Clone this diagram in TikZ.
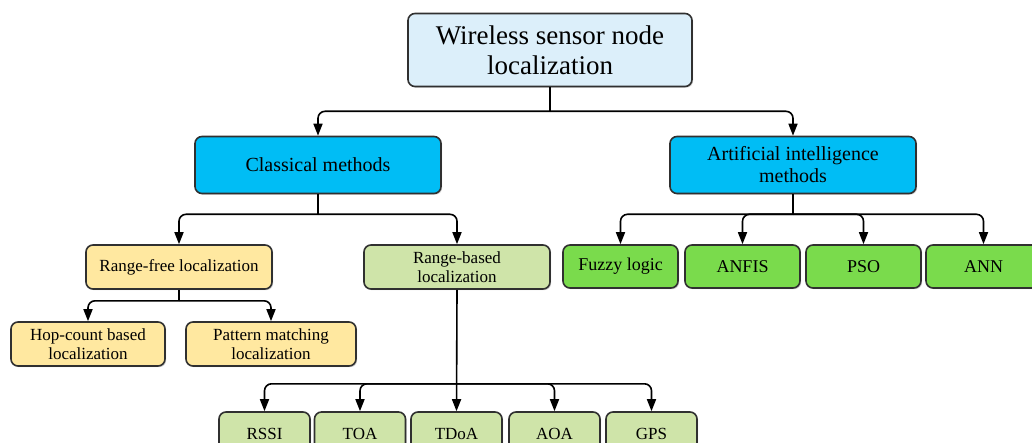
\documentclass[tikz,border=0pt]{standalone}
\usepackage{fontspec}
\setmainfont{Liberation Serif}
\usetikzlibrary{arrows.meta,shadows,calc}
\definecolor{rootfill}{HTML}{DCEFFA}
\definecolor{bluefill}{HTML}{00BDF5}
\definecolor{greenfill}{HTML}{7ADB4C}
\definecolor{yellowfill}{HTML}{FFE8A0}
\definecolor{lgreenfill}{HTML}{CFE4A9}
\definecolor{edge}{HTML}{303030}
\tikzset{
  box/.style={draw=edge, line width=1.6pt, rounded corners=7pt, align=center, inner sep=1pt,
    drop shadow={shadow xshift=1.2pt, shadow yshift=-1.2pt, opacity=0.35}},
  rootbox/.style={box, fill=rootfill, minimum width=284pt, minimum height=73pt, font=\fontsize{27}{30}\selectfont},
  bluebox/.style={box, fill=bluefill, minimum width=246pt, minimum height=57pt, font=\fontsize{20}{22}\selectfont},
  greenbox/.style={box, fill=greenfill, minimum width=115pt, minimum height=43pt, font=\fontsize{18}{20}\selectfont},
  yellowbox/.style={box, fill=yellowfill, minimum height=44pt, font=\fontsize{17}{19}\selectfont},
  lgreenbox/.style={box, fill=lgreenfill, minimum height=44pt, font=\fontsize{17}{19}\selectfont},
  arr/.style={-{Triangle[width=9pt,length=12pt]}, line width=1.6pt, rounded corners=7pt, draw=black},
  stem/.style={line width=1.6pt, draw=black}
}
\begin{document}
\begin{tikzpicture}[x=1pt,y=-1pt]
\useasboundingbox (0,0) rectangle (1032,443);
\clip (0,0) rectangle (1032,443);
\node[rootbox] (root) at (550,50) {Wireless sensor node\\localization};
\node[bluebox] (cm) at (318,165) {Classical methods};
\node[bluebox] (ai) at (793,165) {Artificial intelligence\\methods};
\node[yellowbox, minimum width=186pt] (rf) at (179,267) {Range-free localization};
\node[lgreenbox, minimum width=186pt] (rb) at (457,267) {Range-based\\localization};
\node[yellowbox, minimum width=154pt] (hop) at (88,344) {Hop-count based\\localization};
\node[yellowbox, minimum width=170pt] (pat) at (271,344) {Pattern matching\\localization};
\node[greenbox] (fuzzy) at (620.5,266.5) {Fuzzy logic};
\node[greenbox] (anfis) at (742.5,266.5) {ANFIS};
\node[greenbox] (pso) at (863.5,266.5) {PSO};
\node[greenbox] (ann) at (983.5,266.5) {ANN};
\node[lgreenbox, minimum width=91pt] (rssi) at (264.5,434) {RSSI};
\node[lgreenbox, minimum width=91pt] (toa) at (360,434) {TOA};
\node[lgreenbox, minimum width=91pt] (tdoa) at (456.5,434) {TDoA};
\node[lgreenbox, minimum width=91pt] (aoa) at (554.5,434) {AOA};
\node[lgreenbox, minimum width=91pt] (gps) at (651.5,434) {GPS};
% junctions
\coordinate (j0) at ($(root.south)+(0,24)$);
\coordinate (j1) at ($(cm.south)+(0,20)$);
\coordinate (j2) at ($(rf.south)+(0,11)$);
\coordinate (j3) at ($(ai.south)+(0,20)$);
\coordinate (j4) at ($(rb.south)+(0,94)$);
% connectors
\draw[stem] (root.south) -- (j0);
\draw[arr] (j0) -| (cm.north);
\draw[arr] (j0) -| (ai.north);
\draw[stem] (cm.south) -- (j1);
\draw[arr] (j1) -| (rf.north);
\draw[arr] (j1) -| (rb.north);
\draw[stem] (rf.south) -- (j2);
\draw[arr] (j2) -| (hop.north);
\draw[arr] (j2) -| (pat.north);
\draw[stem] (ai.south) -- (j3);
\draw[arr] (j3) -| (fuzzy.north);
\draw[arr] (j3) -| (anfis.north);
\draw[arr] (j3) -| (pso.north);
\draw[arr] (j3) -| (ann.north);
\draw[arr] (rb.south) -- (tdoa.north);
\draw[arr] (j4) -| (rssi.north);
\draw[arr] (j4) -| (toa.north);
\draw[arr] (j4) -| (aoa.north);
\draw[arr] (j4) -| (gps.north);
\end{tikzpicture}
\end{document}
